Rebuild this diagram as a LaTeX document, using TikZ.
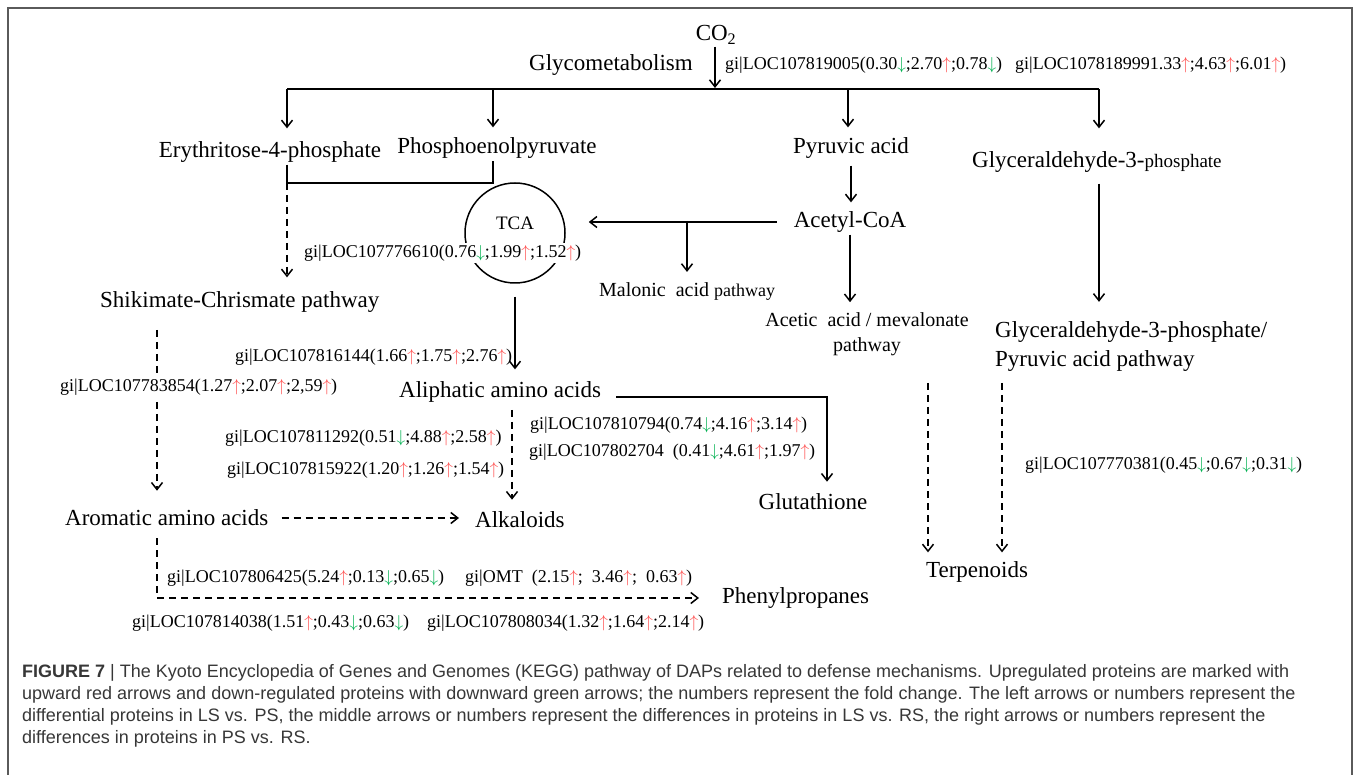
\documentclass[tikz,border=0pt]{standalone}
\usepackage{fontspec}
\setmainfont{Liberation Serif}
\newfontfamily\capfont{Liberation Sans}
\usepackage{xcolor}
\usetikzlibrary{arrows.meta}
\definecolor{upred}{RGB}{255,80,80}
\definecolor{dngreen}{RGB}{0,176,80}
\definecolor{framegray}{RGB}{90,90,90}
\definecolor{capgray}{RGB}{55,55,55}
\newcommand{\upa}{\textcolor{upred}{$\uparrow$}}
\newcommand{\dna}{\textcolor{dngreen}{$\downarrow$}}

\begin{document}
\begin{tikzpicture}[x=1pt, y=-1pt,
    lbl/.style={font=\fontsize{23}{29}\selectfont, inner sep=2pt},
    mid/.style={font=\fontsize{20}{25}\selectfont, inner sep=2pt},
    gi/.style={font=\fontsize{18}{22}\selectfont, inner sep=2pt, anchor=west},
    line/.style={line width=1.5pt},
    arr/.style={line width=1.5pt, -{Straight Barb[length=7pt,width=11pt]}},
    darr/.style={arr, dash pattern=on 7pt off 5pt}]
    \useasboundingbox (0,0) rectangle (1358,775);
    % frame
    \draw [framegray, line width=1.2pt] (8,780) -- (8,8) -- (1352,8) -- (1352,780);

    % top: CO2 and glycometabolism
    \node [lbl] (co2) at (716,35) {CO\textsubscript{2}};
    \node [lbl] (glyco) at (611,65) {Glycometabolism};
    \node [gi] (gi1) at (723,65) {gi|LOC107819005(0.30\dna;2.70\upa;0.78\dna)};
    \node [gi] (gi2) at (1013,65) {gi|LOC1078189991.33\upa;4.63\upa;6.01\upa)};
    \coordinate (hub) at (715,88);
    \coordinate (br1) at (287,89);
    \coordinate (br2) at (493,89);
    \coordinate (br3) at (848,89);
    \coordinate (br4) at (1099,89);

    % first row
    \node [lbl] (ery) at (270,152) {Erythritose-4-phosphate};
    \node [lbl] (pep) at (497,148) {Phosphoenolpyruvate};
    \node [lbl] (pyr) at (851,148) {Pyruvic acid};
    \node [lbl, anchor=west] (gap) at (970,162) {Glyceraldehyde-3-{\fontsize{19}{23}\selectfont phosphate}};

    % TCA and acetyl-CoA
    \node [circle, draw, line width=1.5pt, minimum size=100pt] (tca) at (515,233) {};
    \node [font=\fontsize{19}{23}\selectfont] (tcatxt) at (515,223) {TCA};
    \node [gi, fill=white] (gi3) at (302,253) {gi|LOC107776610(0.76\dna;1.99\upa;1.52\upa)};
    \node [lbl] (acetyl) at (850,222) {Acetyl-CoA};
    \coordinate (mb) at (687,221);
    \node [mid, anchor=west] (malonic) at (597,292) {Malonic\ \ acid {\fontsize{18}{22}\selectfont pathway}};
    \node [mid, align=center] (acetic) at (867,334) {Acetic\ \ acid / mevalonate\\ pathway};
    \node [lbl, anchor=west, align=left] (gap2) at (993,347) {Glyceraldehyde-3-phosphate/\\Pyruvic acid pathway};

    % left column
    \node [lbl, anchor=west] (shik) at (98,302) {Shikimate-Chrismate\ pathway};
    \coordinate (jn) at (287,183);
    \node [gi] (gi4) at (233,357) {gi|LOC107816144(1.66\upa;1.75\upa;2.76\upa)};
    \node [lbl, anchor=west] (ali) at (397,392) {Aliphatic amino acids};
    \coordinate (s1) at (157,330);
    \node [gi] (gi6) at (223,438) {gi|LOC107811292(0.51\dna;4.88\upa;2.58\upa)};
    \node [gi] (gi7) at (225,470) {gi|LOC107815922(1.20\upa;1.26\upa;1.54\upa)};
    \node [gi] (gi8) at (528,425) {gi|LOC107810794(0.74\dna;4.16\upa;3.14\upa)};
    \node [gi] (gi9) at (527,452) {gi|LOC107802704\ \ (0.41\dna;4.61\upa;1.97\upa)};
    \coordinate (gc) at (827,397);
    \coordinate (a1) at (512,410);
    \node [lbl] (glut) at (813,502) {Glutathione};
    \node [lbl, anchor=west] (aro) at (63,518) {Aromatic amino acids};
    \node [lbl, anchor=west] (alk) at (473,520) {Alkaloids};

    % right side
    \coordinate (t1) at (928,383);
    \coordinate (t2) at (1002,383);
    \node [gi] (gi10) at (1023,465) {gi|LOC107770381(0.45\dna;0.67\dna;0.31\dna)};
    \node [lbl] (terp) at (977,572) {Terpenoids};

    % bottom
    \node [gi] (gi11) at (165,578) {gi|LOC107806425(5.24\upa;0.13\dna;0.65\dna)};
    \node [gi] (gi12) at (463,578) {gi|OMT\ \ (2.15\upa;\ \ 3.46\upa;\ \ 0.63\upa)};
    \node [lbl, anchor=west] (phen) at (720,598) {Phenylpropanes};
    \node [gi] (gi13) at (130,623) {gi|LOC107814038(1.51\upa;0.43\dna;0.63\dna)};
    \node [gi] (gi14) at (425,623) {gi|LOC107808034(1.32\upa;1.64\upa;2.14\upa)};

    % connectors
    \draw [arr] (co2.south -| hub) -- (hub);
    \draw [line] (br1) -- (br4);
    \draw [arr, shorten >=11pt] (br1) -- (br1 |- ery.north);
    \draw [arr, shorten >=8pt] (br2) -- (br2 |- pep.north);
    \draw [arr, shorten >=8pt] (br3) -- (br3 |- pyr.north);
    \draw [arr, shorten >=21pt] (br4) -- (br4 |- gap.north);
    \draw [line] (ery.south -| br1) -- (jn) -- (jn -| br2) -- (pep.south -| br2);
    \draw [darr, shorten >=12pt] (jn) -- (jn |- shik.north);
    \draw [arr, shorten <=5pt, shorten >=7pt] (pyr.south) -- (pyr.south |- acetyl.north);
    \draw [arr, shorten <=15pt, shorten >=23pt] (acetyl.west) -- (acetyl.west -| tca.east);
    \draw [arr, shorten >=9pt] (mb) -- (mb |- malonic.north);
    \draw [arr, shorten >=8pt] (acetyl.south) -- (acetyl.south |- acetic.north);
    \draw [arr, shorten <=9pt, shorten >=18pt] (br4 |- gap.south) -- (br4 |- gap2.north);
    \draw [darr, shorten >=7pt] (t1) -- (t1 |- terp.north);
    \draw [darr, shorten >=7pt] (t2) -- (t2 |- terp.north);
    \draw [arr, shorten <=13pt, shorten >=10pt] (tca.south) -- (tca.south |- ali.north);
    \draw [arr, shorten <=13pt, shorten >=10pt] (ali.east |- gc) -- (gc) -- (gc |- glut.north);
    \draw [darr, shorten >=10pt] (a1) -- (a1 |- alk.north);
    \draw [darr, shorten >=17pt] (s1) -- (s1 |- aro.north);
    \draw [darr, shorten <=11pt, shorten >=14pt] (aro.east) -- (aro.east -| alk.west);
    \draw [darr, shorten <=10pt, shorten >=21pt] (aro.south -| s1) |- (phen.west);
    % label sitting over the dashed line
    \node [gi, fill=white] (gi5) at (58,387) {gi|LOC107783854(1.27\upa;2.07\upa;2,59\upa)};

    % caption
    \node [anchor=north west, align=left, inner sep=0pt, text=capgray,
        font=\capfont\fontsize{18}{22}\selectfont] (cap) at (22,664)
        {\textbf{FIGURE 7} | The Kyoto Encyclopedia of Genes and Genomes (KEGG) pathway of DAPs related to defense mechanisms. Upregulated proteins are marked with\\
        upward red arrows and down-regulated proteins with downward green arrows; the numbers represent the fold change. The left arrows or numbers represent the\\
        differential proteins in LS vs. PS, the middle arrows or numbers represent the differences in proteins in LS vs. RS, the right arrows or numbers represent the\\
        differences in proteins in PS vs. RS.};
\end{tikzpicture}
\end{document}
